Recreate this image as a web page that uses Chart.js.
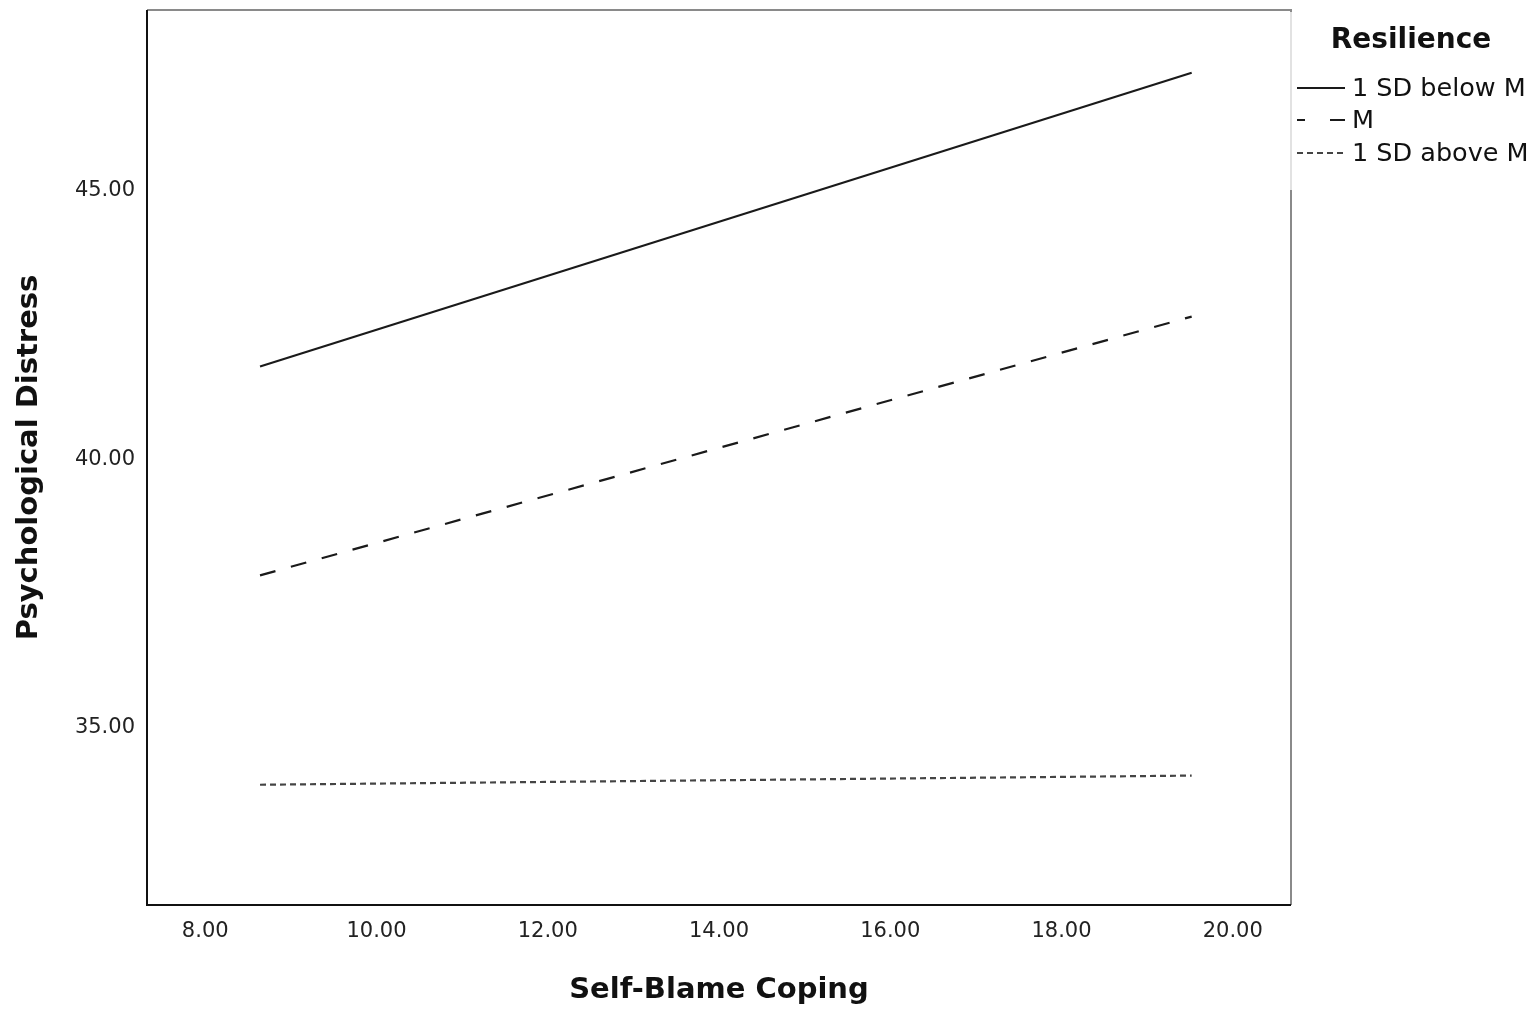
<!DOCTYPE html>
<html>
<head>
<meta charset="utf-8">
<script src="https://cdn.jsdelivr.net/npm/chart.js@4"></script>
<style>
  html, body { margin: 0; padding: 0; background: #fff; }
  #wrap { width: 1535px; height: 1018px; }
</style>
</head>
<body>
<div id="wrap"><canvas id="grafico"></canvas></div>
<script>
// valores
const selfBlame = [8.64, 19.52];
const sdBelow = [41.73, 47.20];
const media = [37.84, 42.66];
const sdAbove = [33.94, 34.11];

const seriesLabels = ["1 SD below M", "M", "1 SD above M"];
const xTicks = [8, 10, 12, 14, 16, 18, 20];
const yTicks = [35, 40, 45];

const FONT = "'DejaVu Sans', sans-serif";

function pontos(xs, ys) {
    return xs.map((x, i) => ({ x: x, y: ys[i] }));
}

// moldura do gráfico + legenda desenhada à mão
const molduraPlugin = {
    id: 'moldura',
    afterDraw(chart) {
        const ctx = chart.ctx;
        const a = chart.chartArea;
        ctx.save();
        // topo e direita cinza
        ctx.strokeStyle = '#8a8a8a';
        ctx.lineWidth = 2;
        ctx.beginPath();
        ctx.moveTo(a.left, a.top);
        ctx.lineTo(a.right, a.top);
        ctx.lineTo(a.right, a.bottom);
        ctx.stroke();
        // esquerda e base pretas
        ctx.strokeStyle = '#111';
        ctx.beginPath();
        ctx.moveTo(a.left, a.top);
        ctx.lineTo(a.left, a.bottom);
        ctx.lineTo(a.right, a.bottom);
        ctx.stroke();

        // caixa da legenda cobre parte da borda
        ctx.fillStyle = 'rgba(255,255,255,0.75)';
        ctx.fillRect(a.right - 2, a.top + 2, 250, 178);

        ctx.fillStyle = '#111';
        ctx.textBaseline = 'middle';
        ctx.textAlign = 'center';
        ctx.font = 'bold 28px ' + FONT;
        ctx.fillText('Resilience', 1411, 41);

        const itemY = [88, 120, 153];
        const dashes = [[], [8, 25, 15, 0], [6, 4]];
        ctx.font = '25.5px ' + FONT;
        ctx.textAlign = 'left';
        chart.data.datasets.forEach((ds, i) => {
            ctx.strokeStyle = ds.borderColor;
            ctx.lineWidth = 2;
            ctx.setLineDash(dashes[i]);
            ctx.beginPath();
            ctx.moveTo(1297, itemY[i]);
            ctx.lineTo(1345, itemY[i]);
            ctx.stroke();
            ctx.setLineDash([]);
            ctx.fillStyle = '#111';
            ctx.fillText(ds.label, 1352, itemY[i] + 1);
        });
        ctx.restore();
    }
};

new Chart(document.getElementById('grafico'), {
    type: 'scatter',
    data: {
        datasets: [
            {
                label: seriesLabels[0],
                data: pontos(selfBlame, sdBelow),
                showLine: true,
                borderColor: '#1a1a1a',
                borderWidth: 2.2,
                pointRadius: 0
            },
            {
                label: seriesLabels[1],
                data: pontos(selfBlame, media),
                showLine: true,
                borderColor: '#1a1a1a',
                borderWidth: 2.2,
                borderDash: [16, 16],
                pointRadius: 0
            },
            {
                label: seriesLabels[2],
                data: pontos(selfBlame, sdAbove),
                showLine: true,
                borderColor: '#444',
                borderWidth: 2.2,
                borderDash: [6, 4],
                pointRadius: 0
            }
        ]
    },
    options: {
        responsive: true,
        maintainAspectRatio: false,
        animation: false,
        layout: { padding: { top: 10, right: 244, left: 0, bottom: 0 } },
        plugins: {
            legend: { display: false },
            tooltip: { enabled: false }
        },
        scales: {
            x: {
                type: 'linear',
                min: 7.32,
                max: 20.68,
                grid: { display: false, drawTicks: false },
                border: { display: false },
                afterBuildTicks: (s) => { s.ticks = xTicks.map(v => ({ value: v })); },
                afterFit: (s) => { s.height = 113; s.paddingLeft = 0; s.paddingRight = 0; },
                ticks: {
                    padding: 14,
                    color: '#222',
                    font: { family: FONT, size: 21 },
                    callback: (v) => Number(v).toFixed(2)
                },
                title: {
                    display: true,
                    text: 'Self-Blame Coping',
                    color: '#111',
                    font: { family: FONT, size: 29, weight: 'bold' },
                    padding: { top: 4, bottom: 10 }
                }
            },
            y: {
                type: 'linear',
                min: 31.7,
                max: 48.37,
                grid: { display: false, drawTicks: false },
                border: { display: false },
                afterBuildTicks: (s) => { s.ticks = yTicks.map(v => ({ value: v })); },
                afterFit: (s) => { s.width = 147; s.paddingTop = 0; s.paddingBottom = 0; },
                ticks: {
                    padding: 12,
                    color: '#222',
                    font: { family: FONT, size: 21 },
                    callback: (v) => Number(v).toFixed(2)
                },
                title: {
                    display: true,
                    text: 'Psychological Distress',
                    color: '#111',
                    font: { family: FONT, size: 29, weight: 'bold' },
                    padding: { top: 12, bottom: 0 }
                }
            }
        }
    },
    plugins: [molduraPlugin]
});
</script>
</body>
</html>
